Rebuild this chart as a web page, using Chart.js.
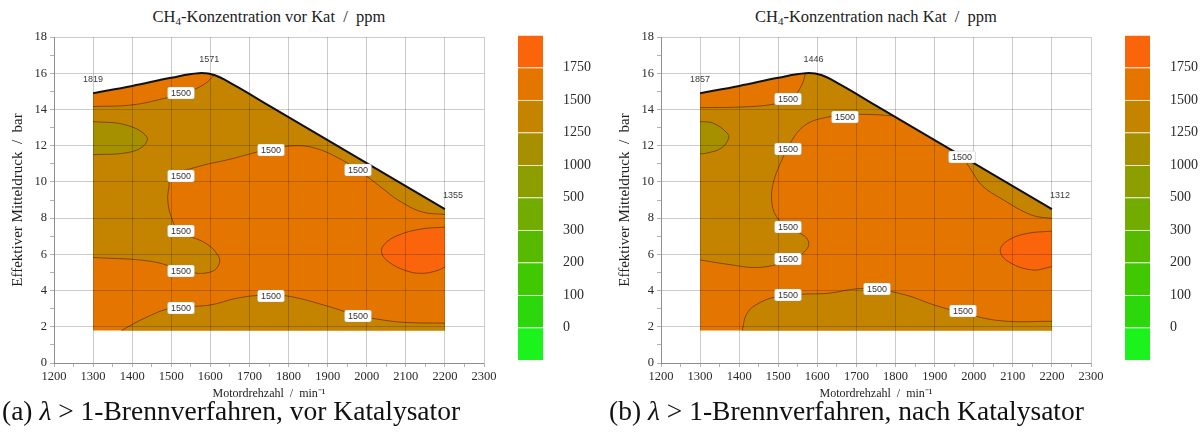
<!DOCTYPE html>
<html>
<head>
<meta charset="utf-8">
<script src="https://cdn.jsdelivr.net/npm/chart.js@4.4.1/dist/chart.umd.min.js"></script>
<style>
  html, body { margin: 0; padding: 0; background: #fff; }
  #page { position: relative; width: 1201px; height: 447px; overflow: hidden; background: #fff; }
  .panel { position: absolute; top: 0; width: 600px; height: 447px; }
  .panel canvas { position: absolute; }
  .title { position: absolute; left: 54px; width: 430px; top: 7px; text-align: center;
           font-family: 'Liberation Serif', 'Times New Roman', serif; font-size: 16.5px; color: #222; white-space: nowrap; }
  .title sub { font-size: 11px; vertical-align: -3px; line-height: 0; }
  .caption { position: absolute; top: 397px; left: 2px; font-family: 'Liberation Serif', 'Times New Roman', serif;
             font-size: 27.5px; line-height: 1; color: #111; white-space: nowrap; }
  .caption i { font-style: italic; }
</style>
</head>
<body>
<div id="page"></div>
<script>
// ---- axes -------------------------------------------------------------
const rpmTicks  = [1200, 1300, 1400, 1500, 1600, 1700, 1800, 1900, 2000, 2100, 2200, 2300];
const bmepTicks = [0, 2, 4, 6, 8, 10, 12, 14, 16, 18];

// ---- colour scale (ppm) ----------------------------------------------
const levels = [0, 100, 200, 300, 500, 1000, 1250, 1500, 1750];
// one colour per band, from "< 0" up to "> 1750"
const bandColors = ['#1cf21c', '#2cd80c', '#40c800', '#58ba00', '#72ac00',
                    '#8c9e00', '#a69000', '#c48400', '#e47600', '#fa640a'];

// ---- operating map outline (rpm, bar) --------------------------------
const fullLoad = [[1300, 14.9], [1400, 15.3], [1500, 15.75], [1570, 16.0], [1610, 15.9],
                  [1660, 15.35], [1750, 14.21], [1850, 12.94], [1950, 11.67], [2050, 10.4],
                  [2150, 9.13], [2200, 8.5]];
const mapMinLoad = 1.8;

// ---- CH4 vor Kat: iso lines (rpm, bar) --------------------------------
const vorIso1500Top  = [[1300, 14.16], [1400, 14.25], [1480, 14.6], [1540, 14.95], [1585, 15.4], [1610, 15.9]];
const vorIso1500Main = [[1300, 5.83], [1452, 5.6], [1550, 5.0], [1604, 5.05], [1623, 5.5], [1619, 5.96],
                        [1589, 6.6], [1520, 7.3], [1500, 8.07], [1491, 9.0], [1494, 9.7], [1500, 10.3],
                        [1570, 10.85], [1650, 11.25], [1750, 11.8], [1820, 12.0], [1870, 11.85],
                        [1920, 11.4], [1975, 10.7], [2040, 9.65], [2080, 9.0], [2140, 8.35], [2200, 8.2]];
const vorIso1250     = [[1300, 13.33], [1383, 13.15], [1437, 12.5], [1427, 11.95], [1383, 11.6], [1300, 11.5]];
const vorIso1500Low  = [[1373, 1.8], [1432, 2.48], [1500, 3.03], [1599, 3.2], [1668, 3.58], [1746, 3.76],
                        [1805, 3.67], [1903, 3.12], [1971, 2.66], [2040, 2.38], [2099, 2.24], [2200, 2.2]];
const vorIso1750     = [[2200, 7.5], [2140, 7.4], [2080, 7.05], [2045, 6.55], [2038, 6.1], [2055, 5.6],
                        [2100, 5.1], [2140, 4.95], [2180, 5.1], [2200, 5.3]];
const vorLabelPos    = [[1526, 14.9], [1754, 11.75], [1526, 10.35], [1977, 10.65], [1526, 7.3],
                        [1526, 5.1], [1526, 3.05], [1754, 3.7], [1977, 2.6]];
const vorCornerPos    = [[1300, 14.9], [1597, 16.0], [2200, 8.5]];
const vorCornerValues = [1819, 1571, 1355];

// ---- CH4 nach Kat: iso lines (rpm, bar) -------------------------------
const nachIso1500Top   = [[1300, 14.1], [1420, 14.15], [1500, 14.35], [1540, 14.75], [1560, 15.35], [1570, 16.0]];
const nachIso1500Main  = [[1300, 5.69], [1383, 5.41], [1442, 5.27], [1500, 5.45], [1540, 5.75], [1565, 6.1],
                          [1578, 6.55], [1568, 7.0], [1530, 7.4], [1495, 8.1], [1483, 9.0], [1488, 10.0],
                          [1505, 11.0], [1535, 12.3], [1570, 13.15], [1620, 13.55], [1680, 13.7],
                          [1740, 13.72], [1795, 13.64]];
const nachIso1500Right = [[1962, 11.52], [1975, 11.25], [1995, 10.6], [2021, 9.8], [2070, 9.08],
                          [2148, 8.17], [2200, 7.98]];
const nachIso1250      = [[1300, 13.33], [1334, 13.24], [1369, 12.7], [1373, 12.4], [1354, 11.86],
                          [1315, 11.58], [1300, 11.55]];
const nachIso1500Low   = [[1408, 1.8], [1418, 2.66], [1442, 3.2], [1496, 3.67], [1560, 3.8], [1628, 3.85],
                          [1697, 4.09], [1746, 4.09], [1825, 3.76], [1898, 3.21], [1967, 2.79],
                          [2070, 2.33], [2200, 2.3]];
const nachIso1750      = [[2200, 7.28], [2138, 7.16], [2090, 6.8], [2068, 6.25], [2085, 5.65],
                          [2148, 5.14], [2200, 5.32]];
const nachLabelPos     = [[1525, 14.56], [1671, 13.6], [1525, 11.8], [1970, 11.35], [1525, 7.5],
                          [1525, 5.75], [1525, 3.77], [1752, 4.1], [1972, 2.85]];
const nachCornerPos    = [[1300, 14.9], [1590, 16.0], [2200, 8.5]];
const nachCornerValues = [1857, 1446, 1312];

const isoLabelLevel = 1500;

// ---- texts --------------------------------------------------------------
const titles   = ['CH<sub>4</sub>-Konzentration vor Kat &nbsp;/&nbsp; ppm',
                  'CH<sub>4</sub>-Konzentration nach Kat &nbsp;/&nbsp; ppm'];
const captions = ['(a) <i>λ</i> &gt; 1-Brennverfahren, vor Katalysator',
                  '(b) <i>λ</i> &gt; 1-Brennverfahren, nach Katalysator'];
const xTitle = 'Motordrehzahl  /  min\u207B\u00B9';
const yTitle = 'Effektiver Mitteldruck  /  bar';

// ---- shape helpers ------------------------------------------------------
const TL = fullLoad[0], TR = fullLoad[fullLoad.length - 1];
const xMin = TL[0], xMax = TR[0];
const corner = p => [p, p];                       // doubled point = sharp corner in the spline
const fullLoadBetween = (a, b) => fullLoad.filter(([x]) => x > a && x < b);

// whole map area
function mapShape() {
  return [...corner([xMin, mapMinLoad]), ...corner([xMax, mapMinLoad]), ...corner(TR),
          ...fullLoad.slice(1, -1).reverse(), ...corner(TL), [xMin, mapMinLoad]];
}
// area between an iso line and the full-load line
function underFullLoad(c) {
  const c0 = c[0], cn = c[c.length - 1];
  const pts = [...corner(c0)];
  const fromLeft = c0[0] === xMin && c0[1] < TL[1];
  const toRight = cn[0] === xMax && cn[1] < TR[1];
  if (fromLeft) pts.push(...corner(TL));
  pts.push(...fullLoadBetween(fromLeft ? xMin : c0[0], toRight ? xMax : cn[0]));
  if (toRight) pts.push(...corner(TR));
  pts.push(...corner(cn), ...c.slice(1, -1).reverse(), c0);
  return pts;
}
// area between an iso line and one straight edge of the map
function edgeShape(c) {
  return [...corner(c[0]), ...c.slice(1, -1), ...corner(c[c.length - 1]), c[0]];
}
// area between an iso line running from the lower edge to the right edge
function lowerRightShape(c) {
  return [...corner(c[0]), ...c.slice(1, -1), ...corner(c[c.length - 1]),
          ...corner([xMax, mapMinLoad]), c[0]];
}

const toXY = pts => pts.map(([x, y]) => ({ x, y }));
const band = v => bandColors[levels.filter(l => l <= v).length];   // colour of band containing v

function fillSet(pts, color, order) {
  return { data: toXY(pts), backgroundColor: color, borderColor: 'rgba(0,0,0,0)', borderWidth: 0,
           fill: 'shape', order, pointRadius: 0 };
}
function lineSet(pts, color, width, order) {
  return { data: toXY(pts), borderColor: color, borderWidth: width, fill: false, order, pointRadius: 0 };
}

const isoColor = 'rgba(105,50,0,0.75)';

function datasetsVor() {
  return [
    fillSet(mapShape(), band(1600), 20),
    fillSet(underFullLoad(vorIso1500Main), band(1400), 19),
    fillSet(underFullLoad(vorIso1500Top), band(1600), 18),
    fillSet(edgeShape(vorIso1250), band(1100), 17),
    fillSet(lowerRightShape(vorIso1500Low), band(1400), 16),
    fillSet(edgeShape(vorIso1750), band(1800), 15),
    lineSet(vorIso1500Main, isoColor, 1, 9),
    lineSet(vorIso1500Top, isoColor, 1, 8),
    lineSet(vorIso1250, isoColor, 1, 7),
    lineSet(vorIso1500Low, isoColor, 1, 6),
    lineSet(vorIso1750, isoColor, 1, 5),
    lineSet(fullLoad, '#111', 2, 1)
  ];
}
function datasetsNach() {
  return [
    fillSet(mapShape(), band(1600), 20),
    fillSet(underFullLoad(nachIso1500Main), band(1400), 19),
    fillSet(underFullLoad(nachIso1500Right), band(1400), 18),
    fillSet(underFullLoad(nachIso1500Top), band(1600), 17),
    fillSet(edgeShape(nachIso1250), band(1100), 16),
    fillSet(lowerRightShape(nachIso1500Low), band(1400), 15),
    fillSet(edgeShape(nachIso1750), band(1800), 14),
    lineSet(nachIso1500Main, isoColor, 1, 9),
    lineSet(nachIso1500Right, isoColor, 1, 8),
    lineSet(nachIso1500Top, isoColor, 1, 7),
    lineSet(nachIso1250, isoColor, 1, 6),
    lineSet(nachIso1500Low, isoColor, 1, 5),
    lineSet(nachIso1750, isoColor, 1, 4),
    lineSet(fullLoad, '#111', 2, 1)
  ];
}

// ---- iso-line labels and full-load values ------------------------------
const isoLabels = {
  id: 'isoLabels',
  afterDraw(chart, args, opts) {
    const { ctx, scales: { x, y } } = chart;
    ctx.save();
    ctx.font = '9px "Liberation Sans", Arial, sans-serif';
    ctx.textAlign = 'center';
    ctx.textBaseline = 'middle';
    const text = String(opts.level);
    for (const [r, p] of opts.positions) {
      const px = Math.round(x.getPixelForValue(r)), py = Math.round(y.getPixelForValue(p));
      const w = Math.round(ctx.measureText(text).width) + 7, h = 12;
      ctx.fillStyle = '#fff';
      ctx.strokeStyle = 'rgba(150,150,150,0.6)';
      ctx.lineWidth = 0.5;
      ctx.beginPath();
      ctx.roundRect(px - w / 2, py - h / 2, w, h, 2);
      ctx.fill();
      ctx.stroke();
      ctx.fillStyle = '#333';
      ctx.fillText(text, px, py + 0.5);
    }
    ctx.fillStyle = '#3a3a3a';
    opts.corners.forEach(([r, p], i) => {
      const dx = r >= xMax ? 8 : 0;
      ctx.fillText(String(opts.values[i]), x.getPixelForValue(r) + dx, y.getPixelForValue(p) - 14);
    });
    ctx.restore();
  }
};

const serif = "'Liberation Serif', 'Times New Roman', serif";
const gridColor = 'rgba(0,0,0,0.2)';

function plotConfig(datasets, labelPos, cornerPos, cornerValues) {
  const minorRpm = rpmTicks.slice(0, -1).map(v => v + 50);
  const minorBmep = bmepTicks.slice(0, -1).map(v => v + 1);
  return {
    type: 'line',
    data: { datasets },
    options: {
      responsive: false, animation: false, events: [],
      layout: { padding: { left: 0, right: 16, top: 37, bottom: 2 } },
      elements: { line: { tension: 0.4 }, point: { radius: 0 } },
      plugins: {
        legend: { display: false }, tooltip: { enabled: false },
        isoLabels: { level: isoLabelLevel, positions: labelPos, corners: cornerPos, values: cornerValues }
      },
      scales: {
        x: {
          type: 'linear', min: rpmTicks[0], max: rpmTicks[rpmTicks.length - 1],
          afterBuildTicks: s => { s.ticks = [...rpmTicks, ...minorRpm].sort((a, b) => a - b).map(value => ({ value })); },
          ticks: { autoSkip: false, maxRotation: 0, padding: 2, color: '#2a2a2a',
                   font: { family: serif, size: 12.5 },
                   callback: v => rpmTicks.includes(v) ? String(v) : '' },
          grid: { z: 1, color: c => rpmTicks.includes(c.tick && c.tick.value) ? gridColor : 'rgba(0,0,0,0)',
                  tickColor: 'rgba(0,0,0,0.3)', tickLength: 4 },
          border: { z: 1, color: 'rgba(0,0,0,0.3)' },
          title: { display: true, text: xTitle, color: '#222', font: { family: serif, size: 12 },
                   padding: { top: 0, bottom: 2 } },
          afterFit: s => { s.height = 40; }
        },
        y: {
          type: 'linear', min: bmepTicks[0], max: bmepTicks[bmepTicks.length - 1],
          afterBuildTicks: s => { s.ticks = [...bmepTicks, ...minorBmep].sort((a, b) => a - b).map(value => ({ value })); },
          ticks: { autoSkip: false, padding: 3, color: '#2a2a2a',
                   font: { family: serif, size: 12.5 },
                   callback: v => bmepTicks.includes(v) ? String(v) : '' },
          grid: { z: 1, color: c => bmepTicks.includes(c.tick && c.tick.value) ? gridColor : 'rgba(0,0,0,0)',
                  tickColor: 'rgba(0,0,0,0.3)', tickLength: 4 },
          border: { z: 1, color: 'rgba(0,0,0,0.3)' },
          title: { display: true, text: yTitle, color: '#222', font: { family: serif, size: 15 },
                   padding: { top: 9, bottom: 0 } },
          afterFit: s => { s.width = 54; }
        }
      }
    },
    plugins: [isoLabels]
  };
}

function colorbarConfig() {
  const bandTicks = levels.map((_, i) => i + 1);
  return {
    type: 'bar',
    data: {
      labels: [''],
      datasets: bandColors.map(c => ({
        data: [1], backgroundColor: c, borderColor: 'rgba(255,255,255,0.45)',
        borderWidth: { top: 1, left: 0, right: 0, bottom: 0 }, borderSkipped: false,
        barPercentage: 1, categoryPercentage: 1
      }))
    },
    options: {
      responsive: false, animation: false, events: [],
      layout: { padding: { top: 10, bottom: 10, left: 0, right: 0 } },
      plugins: { legend: { display: false }, tooltip: { enabled: false } },
      scales: {
        x: { display: false, stacked: true },
        y: {
          stacked: true, position: 'right', min: 0, max: bandColors.length,
          afterBuildTicks: s => { s.ticks = bandTicks.map(value => ({ value })); },
          ticks: { padding: 12, color: '#2a2a2a', font: { family: serif, size: 14 },
                   callback: v => String(levels[v - 1]) },
          grid: { display: false }, border: { display: false },
          afterFit: s => { s.width = 60; s.paddingTop = 0; s.paddingBottom = 0; }
        }
      }
    }
  };
}

// ---- build both panels ------------------------------------------------
const page = document.getElementById('page');
const panelDefs = [
  { left: 0,   sets: datasetsVor(),  labels: vorLabelPos,  corners: vorCornerPos,  values: vorCornerValues },
  { left: 607, sets: datasetsNach(), labels: nachLabelPos, corners: nachCornerPos, values: nachCornerValues }
];

panelDefs.forEach((def, i) => {
  const panel = document.createElement('div');
  panel.className = 'panel';
  panel.style.left = def.left + 'px';
  page.appendChild(panel);

  const title = document.createElement('div');
  title.className = 'title';
  title.innerHTML = titles[i];
  panel.appendChild(title);

  const plot = document.createElement('canvas');
  plot.width = 500; plot.height = 405;
  plot.style.left = '0px'; plot.style.top = '0px';
  panel.appendChild(plot);
  new Chart(plot, plotConfig(def.sets, def.labels, def.corners, def.values));

  const bar = document.createElement('canvas');
  bar.width = 85; bar.height = 345;
  bar.style.left = '518px'; bar.style.top = '25px';
  panel.appendChild(bar);
  new Chart(bar, colorbarConfig());

  const cap = document.createElement('div');
  cap.className = 'caption';
  cap.innerHTML = captions[i];
  panel.appendChild(cap);
});
</script>
</body>
</html>
